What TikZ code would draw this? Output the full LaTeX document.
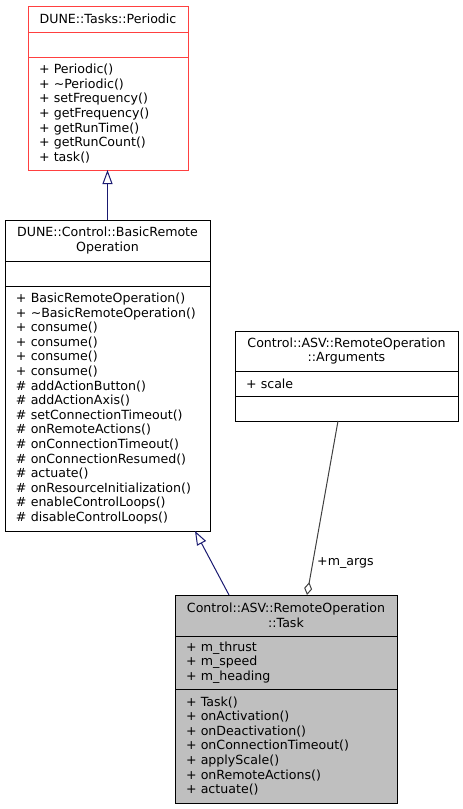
\documentclass[tikz,border=0pt]{standalone}
\usepackage{fontspec}
\setmainfont{DejaVu Sans}
\usetikzlibrary{positioning,shapes,arrows.meta}
\definecolor{edgeblue}{HTML}{191970}
\definecolor{edgegray}{HTML}{404040}
\definecolor{boxred}{HTML}{FF4040}
\definecolor{boxgray}{HTML}{BFBFBF}
\newcommand\umlfont{\fontsize{12.6}{14.6}\selectfont}
\tikzset{
uml/.style={draw, line width=1, inner sep=0pt, outer sep=0pt, font=\umlfont},
head/.style={uml, align=center, minimum width=#1},
part/.style={uml, align=left, inner xsep=11pt, text width=#1},
inherit/.style={draw=edgeblue, line width=1, -{Triangle[open, length=14pt, width=10pt]}},
aggr/.style={draw=edgegray, line width=1, {Diamond[open, length=13pt, width=8pt]}-},
}

\begin{document}
\begin{tikzpicture}[x=1pt, y=-1pt]
\useasboundingbox (0,0) rectangle (463,809);
\node[head=160, minimum height=26, draw=boxred] (perTitle) at (108,19) {DUNE::Tasks::Periodic};
\node[part=138, minimum height=25, draw=boxred, below=0pt of perTitle] (perAttr) {};
\node[part=138, minimum height=113, draw=boxred, below=0pt of perAttr] (perOps) {+ Periodic()\\+ \textasciitilde Periodic()\\+ setFrequency()\\+ getFrequency()\\+ getRunTime()\\+ getRunCount()\\+ task()};
\node[head=205, minimum height=41] (broTitle) at (107.5,240.5) {DUNE::Control::BasicRemote\\Operation};
\node[part=183, minimum height=25, below=0pt of broTitle] (broAttr) {};
\node[part=183, minimum height=245, below=0pt of broAttr] (broOps) {+ BasicRemoteOperation()\\+ \textasciitilde BasicRemoteOperation()\\+ consume()\\+ consume()\\+ consume()\\+ consume()\\\# addActionButton()\\\# addActionAxis()\\\# setConnectionTimeout()\\\# onRemoteActions()\\\# onConnectionTimeout()\\\# onConnectionResumed()\\\# actuate()\\\# onResourceInitialization()\\\# enableControlLoops()\\\# disableControlLoops()};
\node[head=223, minimum height=40] (argsTitle) at (346.5,351) {Control::ASV::RemoteOperation\\::Arguments};
\node[part=201, minimum height=25, below=0pt of argsTitle] (argsAttr) {+ scale};
\node[part=201, minimum height=25, below=0pt of argsAttr] (argsOps) {};
\node[head=222, minimum height=41, fill=boxgray] (taskTitle) at (286,615.5) {Control::ASV::RemoteOperation\\::Task};
\node[part=200, minimum height=53, fill=boxgray, below=0pt of taskTitle] (taskAttr) {+ m\_thrust\\+ m\_speed\\+ m\_heading};
\node[part=200, minimum height=114, fill=boxgray, below=0pt of taskAttr] (taskOps) {+ Task()\\+ onActivation()\\+ onDeactivation()\\+ onConnectionTimeout()\\+ applyScale()\\+ onRemoteActions()\\+ actuate()};
\draw[inherit] (broTitle.north) -- (broTitle.north |- perOps.south);
\draw[inherit] ([xshift=-57pt]taskTitle.north) -- ([xshift=87.5pt]broOps.south);
\draw[aggr] ([xshift=21pt]taskTitle.north) -- ([xshift=-8.5pt]argsOps.south);
\node[font=\umlfont, inner sep=0pt, anchor=west] (argsRole) at (317,563) {+m\_args};
\end{tikzpicture}
\end{document}
